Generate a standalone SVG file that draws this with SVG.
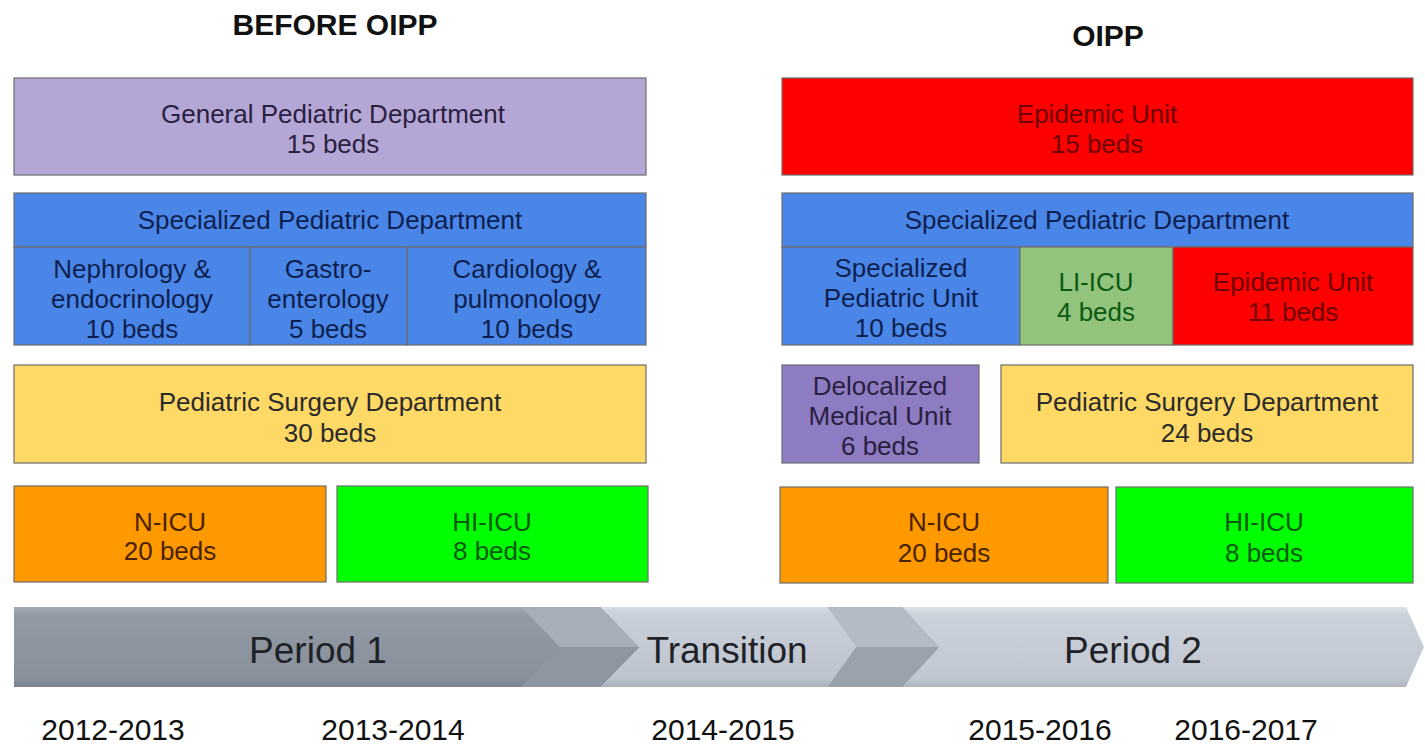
<svg xmlns="http://www.w3.org/2000/svg" width="1425" height="746" viewBox="0 0 1425 746">
<style>
text{font-family:"Liberation Sans",Arial,sans-serif;text-anchor:middle}
.t{font-size:26px}
.h{font-size:30px;font-weight:bold;fill:#111}
.box{stroke:#6d6d6d;stroke-width:1.2}
.purple{fill:#b4a7d6}.blue{fill:#4a86e8}.yellow{fill:#ffd966}.orange{fill:#ff9900}.green{fill:#00ff00}.red{fill:#ff0000}.lgreen{fill:#93c47d}.dpurple{fill:#8e7cc3}
.tb{fill:#0d1f4f}.td{fill:#2b2b2b}.tr{fill:#6e0000}.tg{fill:#0a5a12}.to{fill:#4a2200}.tp{fill:#2a2040}
.bar{font-size:37px;fill:#1f2328}
.yr{font-size:30px;fill:#111}
</style>
<defs>
<linearGradient id="g1" x1="0" y1="0" x2="0" y2="1"><stop offset="0" stop-color="#a3acb5"/><stop offset="0.1" stop-color="#929ba5"/><stop offset="0.9" stop-color="#88919b"/><stop offset="1" stop-color="#79828b"/></linearGradient>
<linearGradient id="g2" x1="0" y1="0" x2="0" y2="1"><stop offset="0" stop-color="#d6dce4"/><stop offset="0.1" stop-color="#c9d0d9"/><stop offset="0.9" stop-color="#bcc3cd"/><stop offset="1" stop-color="#a9b0ba"/></linearGradient>
<linearGradient id="g3" x1="0" y1="0" x2="0" y2="1"><stop offset="0" stop-color="#dde2e9"/><stop offset="0.1" stop-color="#ccd2db"/><stop offset="0.9" stop-color="#c0c7d1"/><stop offset="1" stop-color="#adb4be"/></linearGradient>
</defs>

<text class="h" x="335" y="35">BEFORE OIPP</text>
<text class="h" x="1108" y="46">OIPP</text>

<g id="general-pediatric">
<rect class="box purple" x="14" y="78" width="632" height="97"/>
<text class="t tp" x="333" y="123">General Pediatric Department</text>
<text class="t tp" x="333" y="153">15 beds</text>
</g>

<g id="specialized-left">
<rect class="box blue" x="14" y="193" width="632" height="54"/>
<text class="t tb" x="330" y="229">Specialized Pediatric Department</text>
</g>
<g id="nephrology">
<rect class="box blue" x="14" y="247" width="236" height="98"/>
<text class="t tb" x="132" y="278">Nephrology &amp;</text>
<text class="t tb" x="132" y="308">endocrinology</text>
<text class="t tb" x="132" y="338">10 beds</text>
</g>
<g id="gastro">
<rect class="box blue" x="250" y="247" width="157" height="98"/>
<text class="t tb" x="328" y="278">Gastro-</text>
<text class="t tb" x="328" y="308">enterology</text>
<text class="t tb" x="328" y="338">5 beds</text>
</g>
<g id="cardiology">
<rect class="box blue" x="407" y="247" width="239" height="98"/>
<text class="t tb" x="527" y="278">Cardiology &amp;</text>
<text class="t tb" x="527" y="308">pulmonology</text>
<text class="t tb" x="527" y="338">10 beds</text>
</g>

<g id="surgery-left">
<rect class="box yellow" x="14" y="365" width="632" height="98"/>
<text class="t td" x="330" y="411">Pediatric Surgery Department</text>
<text class="t td" x="330" y="442">30 beds</text>
</g>

<g id="nicu-left">
<rect class="box orange" x="14" y="486" width="312" height="96"/>
<text class="t to" x="170" y="531">N-ICU</text>
<text class="t to" x="170" y="560">20 beds</text>
</g>
<g id="hiicu-left">
<rect class="box green" x="337" y="486" width="311" height="96"/>
<text class="t tg" x="492" y="531">HI-ICU</text>
<text class="t tg" x="492" y="560">8 beds</text>
</g>

<g id="epidemic-top">
<rect class="box red" x="782" y="78" width="631" height="97"/>
<text class="t tr" x="1097" y="123">Epidemic Unit</text>
<text class="t tr" x="1097" y="153">15 beds</text>
</g>

<g id="specialized-right">
<rect class="box blue" x="782" y="193" width="631" height="54"/>
<text class="t tb" x="1097" y="229">Specialized Pediatric Department</text>
</g>
<g id="spec-ped-unit">
<rect class="box blue" x="782" y="247" width="238" height="98"/>
<text class="t tb" x="901" y="277">Specialized</text>
<text class="t tb" x="901" y="307">Pediatric Unit</text>
<text class="t tb" x="901" y="337">10 beds</text>
</g>
<g id="li-icu">
<rect class="box lgreen" x="1020" y="247" width="153" height="98"/>
<text class="t tg" x="1096" y="291">LI-ICU</text>
<text class="t tg" x="1096" y="321">4 beds</text>
</g>
<g id="epidemic-sub">
<rect class="box red" x="1173" y="247" width="240" height="98"/>
<text class="t tr" x="1293" y="291">Epidemic Unit</text>
<text class="t tr" x="1293" y="321">11 beds</text>
</g>

<g id="delocalized">
<rect class="box dpurple" x="782" y="365" width="197" height="98"/>
<text class="t tp" x="880" y="395">Delocalized</text>
<text class="t tp" x="880" y="425">Medical Unit</text>
<text class="t tp" x="880" y="455">6 beds</text>
</g>
<g id="surgery-right">
<rect class="box yellow" x="1001" y="365" width="412" height="98"/>
<text class="t td" x="1207" y="411">Pediatric Surgery Department</text>
<text class="t td" x="1207" y="442">24 beds</text>
</g>

<g id="nicu-right">
<rect class="box orange" x="780" y="487" width="328" height="96"/>
<text class="t to" x="944" y="531">N-ICU</text>
<text class="t to" x="944" y="562">20 beds</text>
</g>
<g id="hiicu-right">
<rect class="box green" x="1116" y="487" width="297" height="96"/>
<text class="t tg" x="1264" y="531">HI-ICU</text>
<text class="t tg" x="1264" y="562">8 beds</text>
</g>

<g id="timeline">
<polygon points="14,607 540,607 575,647 540,687 14,687" fill="url(#g1)"/>
<polygon points="521,607 601,607 640,647 560,647" fill="#a6aeb8"/>
<polygon points="560,647 640,647 601,687 521,687" fill="#8e97a1"/>
<polygon points="601,607 827,607 856,647 827,687 601,687 640,647" fill="url(#g2)"/>
<polygon points="827,607 903,607 940,647 856,647" fill="#b3bbc5"/>
<polygon points="856,647 940,647 903,687 827,687" fill="#9aa2ac"/>
<polygon points="903,607 1406,607 1424,647 1406,687 903,687 940,647" fill="url(#g3)"/>
<text class="bar" x="318" y="663">Period 1</text>
<text class="bar" x="727" y="663">Transition</text>
<text class="bar" x="1133" y="663">Period 2</text>
</g>

<text class="yr" x="113" y="740">2012-2013</text>
<text class="yr" x="393" y="740">2013-2014</text>
<text class="yr" x="723" y="740">2014-2015</text>
<text class="yr" x="1040" y="740">2015-2016</text>
<text class="yr" x="1246" y="740">2016-2017</text>
</svg>
